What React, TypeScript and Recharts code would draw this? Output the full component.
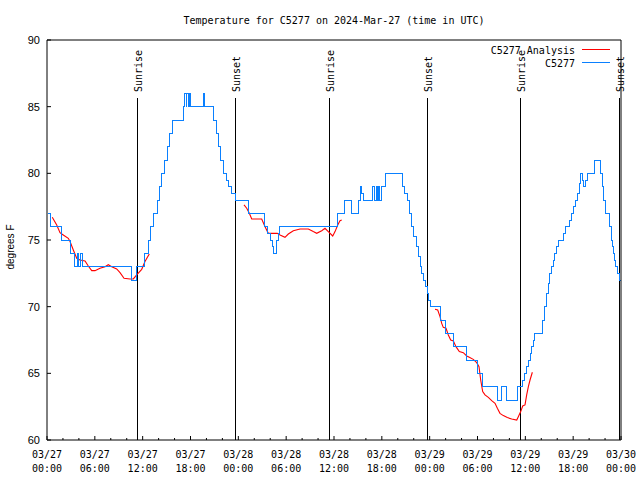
import React from 'react'
import { LineChart, Line, XAxis, YAxis, ReferenceLine } from 'recharts'

// hours since 03/27 00:00 UTC
const obsHours = [
  0.1, 0.38, 1.84, 2.89, 3.42, 3.85, 3.95, 4.14, 4.48, 10.54, 11.23, 12.2, 12.7, 13.0, 13.3, 13.8,
  14.05, 14.4, 14.7, 15.1, 15.35, 15.75, 17.15, 17.3, 17.45, 17.55, 17.7, 17.85, 18.0, 19.66, 19.76,
  20.9, 21.25, 21.55, 21.8, 22.1, 22.5, 22.8, 23.1, 23.6, 25.3, 27.3, 27.7, 28.0, 28.25, 28.45, 28.85,
  29.0, 29.15, 36.4, 37.3, 38.25, 39.1, 39.3, 39.5, 39.7, 40.8, 41.1, 41.3, 41.4, 41.6, 41.7, 42.0,
  42.4, 44.65, 44.9, 45.2, 45.45, 45.75, 46.0, 46.3, 46.55, 46.8, 47.0, 47.2, 47.45, 47.7, 47.9, 48.1,
  49.3, 49.95, 50.95, 52.56, 53.98, 54.6, 56.5, 56.95, 57.7, 59.0, 59.6, 59.9, 60.15, 60.35, 60.6,
  60.8, 61.0, 61.2, 62.1, 62.4, 62.65, 62.88, 63.05, 63.3, 63.55, 63.72, 63.95, 64.14, 64.8, 65.0,
  65.55, 65.8, 66.05, 66.23, 66.5, 66.77, 66.95, 67.15, 67.24, 67.5, 67.78, 68.7, 69.45, 69.7, 69.85,
  70.0, 70.6, 70.8, 70.95, 71.05, 71.2, 71.3, 71.6, 71.75, 72.0,
]
const obsTemps = [
  77, 76, 75, 74, 73, 74, 73, 74, 73, 72, 73, 74, 75, 76, 77, 78,
  79, 80, 81, 82, 83, 84, 85, 86, 85, 86, 85, 86, 85, 86, 85,
  84, 83, 82, 81, 80, 79.5, 79, 78.5, 78, 77, 76, 75.5, 75, 74.5, 74, 75,
  75.5, 76, 77, 78, 77, 78, 79, 78.5, 78, 79, 78, 79, 78, 79, 78, 79,
  80, 79, 78.5, 78, 77, 76, 75.25, 74.5, 73.75, 73, 72.5, 72, 71.5, 71, 70.5, 70,
  69, 68, 67, 66, 65, 64, 63, 64, 63, 64, 64.5, 65, 65.5, 66, 66.5,
  67, 67.5, 68, 69, 70, 71, 71.75, 72.5, 73, 73.5, 74, 74.5, 75, 75.5, 76,
  76.5, 77, 77.5, 78, 78.5, 79.25, 80, 79.5, 79, 79.5, 80, 81, 80, 79, 78,
  77, 76, 75, 74.5, 74, 73.5, 73, 72.5, 72, 72,
]

// analysis, null = no analysis
const anaHours = [
  0.66, 1.22, 1.63, 2.04, 2.67, 2.89, 3.3, 3.73, 4.14, 4.77, 5.18, 5.61, 6.02, 6.65, 7.28, 7.69,
  8.12, 8.74, 9.16, 9.66, 10.41, 10.83, 11.25, 11.88, 12.29, 12.83, 13.0,
  24.71, 25.05, 25.38, 25.68, 26.93, 27.35, 27.76, 28.89, 29.23, 29.85, 30.27, 30.9, 31.74, 32.78,
  33.4, 33.83, 34.46, 34.87, 35.29, 35.84, 36.13, 36.47, 36.75, 36.97, 37.1,
  48.67, 49.01, 49.3, 49.51, 49.71, 50.05, 50.34, 50.64, 50.97, 51.3, 51.72, 52.22, 52.65, 52.97,
  53.47, 53.9, 54.19, 54.4, 54.65, 54.94, 55.36, 55.78, 56.2, 56.49, 56.82, 57.24, 57.74, 58.29,
  58.92, 59.12, 59.42, 59.67, 59.96, 60.17, 60.38, 60.59, 60.88,
]
const anaTemps = [
  76.7, 76.13, 75.55, 75.38, 75.13, 74.88, 74.25, 73.63, 73.5, 73.43, 73.05, 72.7, 72.7, 72.88, 73.0, 73.15,
  73.0, 72.83, 72.55, 72.13, 72.08, 72.08, 72.38, 72.8, 73.38, 73.95, null,
  77.63, 77.38, 77.0, 76.58, 76.58, 76.0, 75.5, 75.5, 75.38, 75.2, 75.45, 75.7, 75.83, 75.83,
  75.63, 75.5, 75.7, 75.88, 75.63, 75.3, 75.63, 76.13, 76.45, 76.5, null,
  69.8, 69.75, 69.25, 68.75, 68.45, 68.38, 67.88, 67.5, 67.43, 67.0, 66.63, 66.55, 66.3, 66.2,
  66.05, 65.8, 65.5, 64.5, 63.63, 63.38, 63.2, 62.95, 62.75, 62.38, 62.0, 61.83, 61.68, 61.58,
  61.5, 61.75, 62.13, 62.55, 62.63, 63.38, 64.0, 64.5, 65.08,
]

const sunHours = [11.33, 23.6, 35.4, 47.7, 59.35, 71.77]
const sunNames = ['Sunrise', 'Sunset', 'Sunrise', 'Sunset', 'Sunrise', 'Sunset']

const xTicks = Array.from({ length: 37 }, (_, i) => i * 2)
const xDates = ['03/27', '03/27', '03/27', '03/27', '03/28', '03/28', '03/28', '03/28', '03/29', '03/29', '03/29', '03/29', '03/30']
const xTimes = ['00:00', '06:00', '12:00', '18:00', '00:00', '06:00', '12:00', '18:00', '00:00', '06:00', '12:00', '18:00', '00:00']
const yTicks = [60, 65, 70, 75, 80, 85, 90]

const obsData = obsHours.map((h, i) => ({ h, temp: obsTemps[i] }))
const anaData = anaHours.map((h, i) => ({ h, temp: anaTemps[i] }))

const MONO = '"DejaVu Sans Mono", monospace'
const SANS = '"Liberation Sans", Arial, sans-serif'

const BottomTick = (props: any) => {
  const { x, y, payload } = props
  const v = payload.value
  const major = v % 6 === 0
  const i = v / 6
  return (
    <g>
      <line x1={x} x2={x} y1={y} y2={y - (major ? 4 : 2)} stroke="#000" />
      {major && (
        <text x={x} y={y + 18} textAnchor="middle" fontFamily={MONO} fontSize={10} fill="#000">
          <tspan x={x}>{xDates[i]}</tspan>
          <tspan x={x} dy={13.5}>{xTimes[i]}</tspan>
        </text>
      )}
    </g>
  )
}

const TopTick = (props: any) => {
  const { x, y, payload } = props
  const major = payload.value % 6 === 0
  return <line x1={x} x2={x} y1={y} y2={y + (major ? 4 : 2)} stroke="#000" />
}

const LeftTick = (props: any) => {
  const { x, y, payload } = props
  return (
    <g>
      <line x1={x} x2={x + 4} y1={y} y2={y} stroke="#000" />
      <text x={x - 7} y={y + 4} textAnchor="end" fontFamily={SANS} fontSize={11} fill="#000">
        {payload.value}
      </text>
    </g>
  )
}

const RightTick = (props: any) => {
  const { x, y } = props
  return <line x1={x} x2={x - 4} y1={y} y2={y} stroke="#000" />
}

const SunLabel = (props: any) => {
  const vb = props.viewBox || {}
  const x = (vb.x ?? 0) + 5
  const y = (vb.y ?? 0) - 6
  return (
    <text x={x} y={y} transform={`rotate(-90 ${x} ${y})`} fontFamily={MONO} fontSize={10} fill="#000">
      {props.text}
    </text>
  )
}

export default function App() {
  return (
    <div style={{ position: 'absolute', left: 0, top: 0, width: 640, height: 480, background: '#fff' }}>
      <LineChart width={640} height={480} margin={{ top: 10, right: 0, bottom: 0, left: 0 }}>
        <XAxis
          dataKey="h"
          type="number"
          domain={[0, 72]}
          ticks={xTicks}
          interval={0}
          height={40}
          tickSize={0}
          tickMargin={0}
          tickLine={false}
          axisLine={{ stroke: '#000' }}
          tick={<BottomTick />}
        />
        <XAxis
          xAxisId="top"
          orientation="top"
          type="number"
          domain={[0, 72]}
          ticks={xTicks}
          interval={0}
          height={30}
          tickSize={0}
          tickMargin={0}
          tickLine={false}
          axisLine={{ stroke: '#000' }}
          tick={<TopTick />}
        />
        <YAxis
          type="number"
          domain={[60, 90]}
          ticks={yTicks}
          interval={0}
          width={47}
          tickSize={0}
          tickMargin={0}
          tickLine={false}
          axisLine={{ stroke: '#000' }}
          tick={<LeftTick />}
        />
        <YAxis
          yAxisId="right"
          orientation="right"
          type="number"
          domain={[60, 90]}
          ticks={yTicks}
          interval={0}
          width={19}
          tickSize={0}
          tickMargin={0}
          tickLine={false}
          axisLine={{ stroke: '#000' }}
          tick={<RightTick />}
        />
        {sunHours.map((h, i) => (
          <ReferenceLine
            key={i}
            segment={[{ x: h, y: 85.65 }, { x: h, y: 60 }]}
            stroke="#000"
            strokeWidth={1}
            shapeRendering="crispEdges"
            label={<SunLabel text={sunNames[i]} />}
          />
        ))}
        <Line
          data={anaData}
          dataKey="temp"
          type="linear"
          stroke="#ff0000"
          strokeWidth={1.1}
          dot={false}
          isAnimationActive={false}
        />
        <Line
          data={obsData}
          dataKey="temp"
          type="stepAfter"
          stroke="#0a80ff"
          strokeWidth={1}
          shapeRendering="crispEdges"
          dot={false}
          isAnimationActive={false}
        />
      </LineChart>
      <svg width={640} height={480} style={{ position: 'absolute', left: 0, top: 0, pointerEvents: 'none' }}>
        <text x={334} y={24} textAnchor="middle" fontFamily={MONO} fontSize={10} fill="#000">
          Temperature for C5277 on 2024-Mar-27 (time in UTC)
        </text>
        <text x={575} y={53.5} textAnchor="end" fontFamily={MONO} fontSize={10} fill="#000">C5277 Analysis</text>
        <line x1={582} x2={610} y1={49.5} y2={49.5} stroke="#ff0000" />
        <text x={575} y={66.5} textAnchor="end" fontFamily={MONO} fontSize={10} fill="#000">C5277</text>
        <line x1={582} x2={610} y1={62.5} y2={62.5} stroke="#0a80ff" />
        <text x={14} y={247} transform="rotate(-90 14 247)" textAnchor="middle" fontFamily={SANS} fontSize={10} fill="#000">
          degrees F
        </text>
      </svg>
    </div>
  )
}
